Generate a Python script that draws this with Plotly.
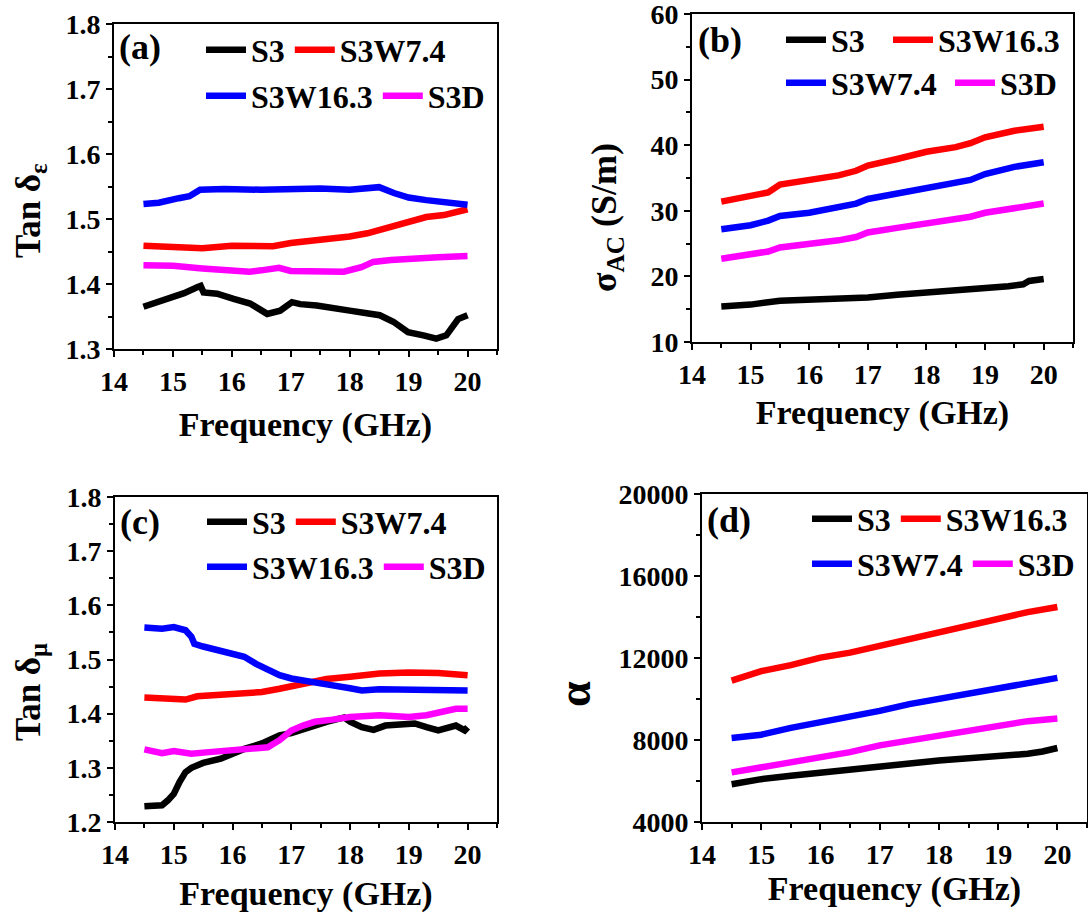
import plotly.graph_objects as go

W, H = 1088, 919
FONT = "Times New Roman, Liberation Serif, Tinos, serif"
BLACK, RED, BLUE, MAG = "#000000", "#FF0000", "#0000FF", "#FF00FF"

# ---------------- Panel (a): Tan delta_epsilon ----------------
a_s3_f = [14.5, 14.79, 15.02, 15.19, 15.41, 15.47, 15.52, 15.75, 16.03, 16.31, 16.6, 16.82,
          17.02, 17.16, 17.44, 17.72, 18.0, 18.29, 18.51, 18.74, 18.99, 19.25, 19.47, 19.64,
          19.76, 19.84, 20.0]
a_s3_v = [1.365, 1.374, 1.380, 1.386, 1.395, 1.397, 1.387, 1.385, 1.377, 1.370, 1.354, 1.359,
          1.372, 1.369, 1.367, 1.364, 1.359, 1.355, 1.352, 1.342, 1.326, 1.321, 1.316, 1.321,
          1.334, 1.346, 1.352]
a_w74_f = [14.5, 15, 15.5, 16, 16.5, 16.7, 17, 17.5, 18, 18.3, 18.6, 18.8, 19, 19.3, 19.6, 20]
a_w74_v = [1.459, 1.456, 1.455, 1.459, 1.458, 1.458, 1.463, 1.467, 1.473, 1.478, 1.486, 1.492,
           1.496, 1.503, 1.506, 1.515]
a_w163_f = [14.5, 14.76, 15.1, 15.28, 15.46, 15.87, 16.5, 17, 17.5, 18, 18.5, 18.75, 19, 19.3,
            19.6, 20]
a_w163_v = [1.523, 1.525, 1.532, 1.535, 1.545, 1.546, 1.545, 1.547, 1.547, 1.545, 1.549, 1.540,
            1.533, 1.529, 1.525, 1.522]
a_s3d_f = [14.5, 15, 15.5, 16, 16.3, 16.5, 16.8, 17, 17.5, 17.9, 18.2, 18.4, 18.7, 19, 19.5, 20]
a_s3d_v = [1.429, 1.428, 1.424, 1.421, 1.419, 1.421, 1.425, 1.420, 1.419, 1.419, 1.426, 1.434,
           1.437, 1.439, 1.441, 1.443]

# ---------------- Panel (b): sigma_AC ----------------
b_s3_f = [14.5, 15, 15.5, 16, 16.5, 17, 17.5, 18, 18.5, 19, 19.4, 19.65, 19.75, 20]
b_s3_v = [15.4, 15.7, 16.3, 16.4, 16.5, 16.8, 17.2, 17.5, 17.8, 18.1, 18.5, 18.8, 19.3, 19.6]
b_f = [14.5, 15, 15.3, 15.5, 16, 16.5, 16.8, 17, 17.5, 18, 18.5, 18.75, 19, 19.5, 20]
b_w163_v = [31.4, 32.2, 32.8, 34.0, 34.6, 35.4, 36.1, 36.9, 37.9, 39.0, 39.7, 40.3, 41.2, 42.2, 42.8]
b_w74_v = [27.2, 27.8, 28.5, 29.2, 29.7, 30.5, 31.1, 31.8, 32.6, 33.6, 34.2, 34.7, 35.6, 36.7, 37.4]
b_s3d_v = [22.7, 23.3, 23.8, 24.4, 24.9, 25.5, 26.0, 26.7, 27.4, 28.1, 28.6, 29.1, 29.7, 30.5, 31.1]

# ---------------- Panel (c): Tan delta_mu ----------------
c_s3_f = [14.5, 14.8, 14.9, 15.0, 15.1, 15.2, 15.3, 15.5, 15.8, 16, 16.2, 16.5, 16.8, 17, 17.3,
          17.6, 17.9, 18, 18.2, 18.4, 18.6, 19, 19.1, 19.3, 19.5, 19.8, 19.95, 20]
c_s3_v = [1.229, 1.231, 1.240, 1.252, 1.274, 1.292, 1.300, 1.309, 1.317, 1.326, 1.335, 1.345,
          1.360, 1.364, 1.375, 1.385, 1.393, 1.385, 1.375, 1.370, 1.378, 1.380, 1.382, 1.375,
          1.369, 1.378, 1.369, 1.375]
c_w74_f = [14.5, 15, 15.2, 15.4, 16, 16.5, 16.8, 17, 17.3, 17.6, 18, 18.5, 19, 19.5, 20]
c_w74_v = [1.430, 1.428, 1.426, 1.432, 1.437, 1.440, 1.446, 1.450, 1.458, 1.464, 1.468, 1.474,
           1.476, 1.475, 1.471]
c_w163_f = [14.5, 14.8, 15.0, 15.2, 15.3, 15.35, 15.5, 15.8, 16.0, 16.2, 16.4, 16.6, 16.8, 17.0,
            17.3, 17.6, 18.0, 18.2, 18.5, 19, 19.5, 20]
c_w163_v = [1.559, 1.557, 1.560, 1.554, 1.542, 1.529, 1.524, 1.517, 1.512, 1.505, 1.492, 1.480,
            1.471, 1.465, 1.458, 1.454, 1.447, 1.443, 1.445, 1.445, 1.445, 1.443]
c_s3d_f = [14.5, 14.8, 15, 15.3, 15.6, 16, 16.3, 16.6, 16.8, 17, 17.2, 17.4, 17.7, 18, 18.5, 19,
           19.3, 19.6, 19.8, 20]
c_s3d_v = [1.334, 1.327, 1.331, 1.326, 1.329, 1.332, 1.335, 1.338, 1.351, 1.369, 1.378, 1.385,
           1.389, 1.394, 1.397, 1.394, 1.397, 1.403, 1.409, 1.409]

# ---------------- Panel (d): alpha ----------------
d_f = [14.5, 15, 15.5, 16, 16.5, 17, 17.5, 18, 18.5, 19, 19.5, 20]
d_s3_f = [14.5, 15, 15.5, 16, 16.5, 17, 17.5, 18, 18.5, 19, 19.5, 19.75, 20]
d_s3_v = [5840, 6090, 6260, 6420, 6590, 6700, 6860, 7000, 7110, 7190, 7330, 7440, 7610]
d_w163_v = [10900, 11360, 11650, 12020, 12260, 12590, 13000, 13300, 13630, 13960, 14240, 14490]
d_w74_v = [8100, 8260, 8590, 8860, 9090, 9420, 9750, 10010, 10290, 10570, 10780, 11030]
d_s3d_v = [6420, 6670, 6910, 7160, 7410, 7740, 7980, 8200, 8480, 8720, 8920, 9050]

x_ticks = [14, 15, 16, 17, 18, 19, 20]
x_title = "Frequency (GHz)"
y_titles = ["Tan δ<sub>ε</sub>", "σ<sub>AC</sub> (S/m)", "Tan δ<sub>μ</sub>", "α"]


def px_x(p):
    return p / W


def px_y(p):
    return 1 - p / H


fig = go.Figure()

# (panel index, name, x, y, color, legend)
series = [
    (1, "S3", a_s3_f, a_s3_v, BLACK, "legend"),
    (1, "S3W7.4", a_w74_f, a_w74_v, RED, "legend"),
    (1, "S3W16.3", a_w163_f, a_w163_v, BLUE, "legend2"),
    (1, "S3D", a_s3d_f, a_s3d_v, MAG, "legend2"),
    (2, "S3", b_s3_f, b_s3_v, BLACK, "legend3"),
    (2, "S3W16.3", b_f, b_w163_v, RED, "legend9"),
    (2, "S3W7.4", b_f, b_w74_v, BLUE, "legend4"),
    (2, "S3D", b_f, b_s3d_v, MAG, "legend10"),
    (3, "S3", c_s3_f, c_s3_v, BLACK, "legend5"),
    (3, "S3W7.4", c_w74_f, c_w74_v, RED, "legend5"),
    (3, "S3W16.3", c_w163_f, c_w163_v, BLUE, "legend6"),
    (3, "S3D", c_s3d_f, c_s3d_v, MAG, "legend6"),
    (4, "S3", d_s3_f, d_s3_v, BLACK, "legend7"),
    (4, "S3W16.3", d_f, d_w163_v, RED, "legend7"),
    (4, "S3W7.4", d_f, d_w74_v, BLUE, "legend8"),
    (4, "S3D", d_f, d_s3d_v, MAG, "legend8"),
]

for idx, name, xs, ys, col, leg in series:
    suf = "" if idx == 1 else str(idx)
    fig.add_trace(go.Scatter(
        x=xs, y=ys, mode="lines", name=name,
        line=dict(color=col, width=6.5),
        xaxis="x" + suf, yaxis="y" + suf, legend=leg))

tick_font = dict(family=FONT, size=28, color="black", weight="bold")
title_font = dict(family=FONT, size=34, color="black", weight="bold")

# domains in pixel coordinates: left, right, top, bottom
domains = {
    1: (114, 497, 24, 349),
    2: (692, 1073, 14, 342),
    3: (115, 497, 497, 822),
    4: (702, 1087, 494, 822),
}
x_standoff = {1: 17, 2: 12, 3: 13, 4: 8}
yspec = {
    1: dict(range=[1.3, 1.8], dtick=0.1, minor=0.05, fmt=".1f"),
    2: dict(range=[10, 60], dtick=10, minor=5, fmt="d"),
    3: dict(range=[1.2, 1.8], dtick=0.1, minor=0.05, fmt=".1f"),
    4: dict(range=[4000, 20000], dtick=4000, minor=2000, fmt="d"),
}

layout_axes = {}
for i in range(1, 5):
    l, r, t, b = domains[i]
    suf = "" if i == 1 else str(i)
    common = dict(
        showline=True, linecolor="black", linewidth=2, mirror=True,
        ticks="outside", ticklen=6, tickwidth=2, tickcolor="black",
        showgrid=False, zeroline=False, tickfont=tick_font, automargin=False,
        ticklabeloverflow="allow",
    )
    layout_axes["xaxis" + suf] = dict(
        common, domain=[px_x(l), px_x(r)], range=[14, 20.5],
        tickvals=x_ticks, anchor="y" + suf,
        minor=dict(ticks="outside", ticklen=4, tickwidth=2, tickcolor="black", dtick=0.5, tick0=14),
        title=dict(text=x_title, font=title_font, standoff=x_standoff[i]),
    )
    ys = yspec[i]
    layout_axes["yaxis" + suf] = dict(
        common, domain=[px_y(b), px_y(t)], range=ys["range"], dtick=ys["dtick"],
        tick0=ys["range"][0], tickformat=ys["fmt"], anchor="x" + suf,
        minor=dict(ticks="outside", ticklen=4, tickwidth=2, tickcolor="black",
                   dtick=ys["minor"], tick0=ys["range"][0]),
    )

leg_font = dict(family=FONT, size=32, color="black", weight="bold")


def leg(sample_left, yp):
    return dict(orientation="h", x=px_x(sample_left - 5), y=px_y(yp), xanchor="left",
                yanchor="middle", bgcolor="rgba(0,0,0,0)", font=leg_font, itemwidth=40,
                borderwidth=0, tracegroupgap=0)


legends = {
    "legend": leg(206, 50),
    "legend2": leg(206, 96),
    "legend3": leg(786, 40),
    "legend9": leg(893, 40),
    "legend4": leg(786, 83),
    "legend10": leg(955, 83),
    "legend5": leg(207, 522),
    "legend6": leg(207, 567),
    "legend7": leg(812, 519),
    "legend8": leg(812, 564),
}

label_font = dict(family=FONT, size=36, color="black", weight="bold")
panel_labels = [("(a)", 117, 47), ("(b)", 696, 40), ("(c)", 118, 522), ("(d)", 705, 520)]
annotations = [
    dict(text=t, x=px_x(xp), y=px_y(yp), xref="paper", yref="paper", xanchor="left",
         yanchor="middle", showarrow=False, font=label_font)
    for t, xp, yp in panel_labels
]
# y-axis titles (placed as rotated text beside each axis)
ytitle_pos = [(30, 211, 35), (607, 218, 36), (30, 692, 35), (574, 694, 46)]
for text, (xp, yp, fs) in zip(y_titles, ytitle_pos):
    annotations.append(dict(
        text=text, x=px_x(xp), y=px_y(yp), xref="paper", yref="paper", xanchor="center",
        yanchor="middle", textangle=-90, showarrow=False,
        font=dict(family=FONT, size=fs, color="black", weight="bold")))

fig.update_layout(
    width=W, height=H, template="none",
    margin=dict(l=0, r=0, t=0, b=0),
    paper_bgcolor="white", plot_bgcolor="white",
    showlegend=True, annotations=annotations,
    **layout_axes, **legends,
)

fig.write_html("out.html")
